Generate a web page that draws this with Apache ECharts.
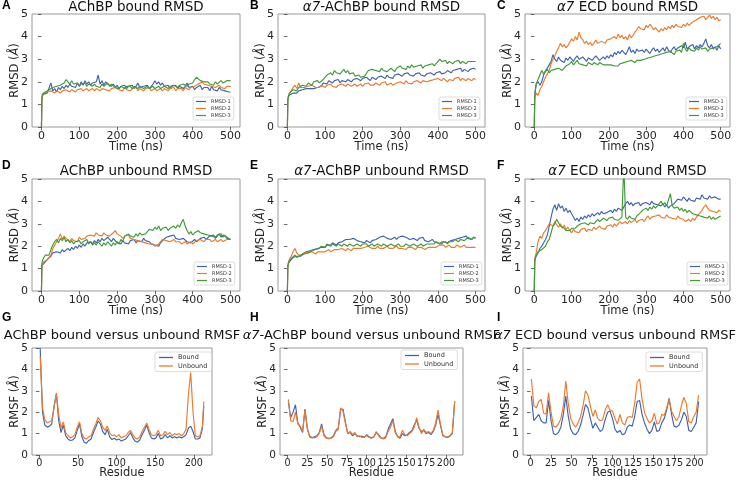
<!DOCTYPE html>
<html><head><meta charset="utf-8">
<script src="https://cdn.jsdelivr.net/npm/echarts@6/dist/echarts.min.js"></script>
<style>html,body{margin:0;padding:0;background:#fff}#c{width:738px;height:480px}</style>
</head><body><div id="c"></div>
<script>
// ---------- DATA ----------
const TIME = [0,1,2.5,5,10,15,20,25,30,35,
40,45,50,55,60,65,70,75,80,85,
90,95,100,105,110,115,120,125,130,135,
140,145,150,155,160,165,170,175,180,185,
190,195,200,205,210,215,220,225,230,235,
240,245,250,255,260,265,270,275,280,285,
290,295,300,305,310,315,320,325,330,335,
340,345,350,355,360,365,370,375,380,385,
390,395,400,405,410,415,420,425,430,435,
440,445,450,455,460,465,470,475,480,485,
490,495,500];

const A_RMSD1 = [0,1.15,1.35,1.45,1.4,1.5,1.45,1.95,1.6,1.7,
1.55,1.75,1.65,1.8,1.7,1.85,1.75,1.9,1.8,1.85,
1.75,1.95,1.8,2.0,1.85,2.05,1.9,2.0,1.85,1.95,
1.9,2.0,2.3,1.9,2.05,1.85,2.0,1.9,1.95,1.8,
1.9,1.75,1.85,1.7,1.8,1.75,1.85,1.7,1.8,1.75,
1.85,1.7,1.8,1.95,1.75,1.7,1.8,1.75,1.85,1.7,
1.8,1.9,2.05,1.9,2.0,1.85,1.95,1.8,1.75,1.85,
1.7,1.8,1.75,1.85,1.7,1.8,1.75,1.7,1.8,1.95,
1.75,1.7,1.8,1.65,1.75,1.7,1.85,1.65,1.75,1.7,
1.75,1.6,1.8,1.65,1.7,1.6,1.75,1.65,1.7,1.6,
1.65,1.55,1.55];
const A_RMSD2 = [0,1.2,1.4,1.5,1.45,1.55,1.5,1.6,1.55,1.5,
1.6,1.55,1.5,1.6,1.55,1.65,1.6,1.55,1.65,1.6,
1.55,1.65,1.6,1.7,1.6,1.65,1.7,1.6,1.65,1.7,
1.6,1.7,1.65,1.6,1.7,1.75,1.65,1.7,1.6,1.7,
1.65,1.75,1.7,1.65,1.7,1.6,1.75,1.65,1.7,1.6,
1.7,1.65,1.75,1.6,1.7,1.65,1.6,1.7,1.65,1.75,
1.6,1.65,1.7,1.6,1.65,1.7,1.6,1.7,1.65,1.6,
1.7,1.65,1.75,1.6,1.7,1.65,1.7,1.6,1.75,1.7,
1.65,1.75,1.7,1.8,1.75,1.9,1.85,2.0,1.9,1.95,
1.85,1.9,1.8,1.85,1.75,1.8,1.85,1.75,1.8,1.7,
1.8,1.75,1.8];
const A_RMSD3 = [0,1.25,1.45,1.5,1.55,1.6,1.65,1.6,1.75,1.7,
1.8,1.75,1.85,1.8,1.95,2.1,2.0,1.9,2.05,1.9,
1.85,1.95,1.8,1.9,1.85,1.95,1.8,1.9,1.85,1.8,
1.9,1.8,1.85,1.75,1.9,1.8,1.85,1.95,1.8,1.9,
1.85,1.75,1.8,1.7,1.8,1.75,1.7,1.8,1.75,1.8,
1.7,1.8,1.75,1.7,1.8,1.75,1.7,1.75,1.8,1.7,
1.75,1.8,1.7,1.75,1.8,1.7,1.75,1.8,1.75,1.7,
1.8,1.75,1.85,1.8,1.75,1.85,1.8,1.9,1.85,1.8,
1.9,1.85,1.95,2.1,2.2,2.15,2.05,2.1,2.0,1.95,
2.0,1.9,1.95,1.85,2.0,1.9,1.95,2.05,1.95,2.0,
2.05,2.0,2.05];

const B_RMSD1 = [0,1.15,1.3,1.4,1.45,1.5,1.55,1.5,1.6,1.55,
1.65,1.6,1.7,1.65,1.7,1.75,1.7,1.65,1.75,1.7,
1.8,1.95,2.0,1.9,2.05,2.0,1.95,2.05,2.0,2.1,
1.95,2.05,2.1,2.0,2.1,2.05,2.0,2.1,2.05,2.15,
2.1,2.05,2.15,2.1,2.2,2.15,2.05,2.2,2.15,2.1,
2.2,2.15,2.25,2.2,2.15,2.3,2.2,2.25,2.15,2.3,
2.25,2.35,2.3,2.25,2.35,2.3,2.4,2.3,2.35,2.25,
2.35,2.3,2.4,2.3,2.35,2.25,2.35,2.3,2.4,2.35,
2.3,2.4,2.35,2.45,2.35,2.3,2.4,2.5,2.45,2.4,
2.5,2.45,2.55,2.5,2.6,2.45,2.55,2.5,2.45,2.55,
2.5,2.6,2.55];
const B_RMSD2 = [0,1.2,1.35,1.45,1.6,1.75,1.85,1.7,1.95,1.75,
1.8,1.75,1.7,1.8,1.75,1.85,1.8,1.75,1.8,1.75,
1.85,1.8,1.75,1.85,1.8,1.9,1.8,1.85,1.75,1.85,
1.8,1.9,1.85,1.8,1.9,1.85,1.8,1.85,1.9,1.8,
1.85,1.9,1.8,1.9,1.85,1.95,1.85,1.9,1.85,1.95,
1.9,1.85,1.95,1.9,2.0,1.85,1.9,1.95,1.85,1.9,
1.95,1.9,2.0,1.95,1.9,2.05,1.95,2.0,1.9,2.0,
1.95,2.05,2.0,1.95,2.05,2.1,2.0,1.95,2.05,2.0,
2.1,2.05,2.15,2.1,2.05,2.15,2.1,2.0,2.1,2.15,
2.05,2.15,2.1,2.2,2.05,2.15,2.1,2.05,2.15,2.1,
2.05,2.15,2.1];
const B_RMSD3 = [0,1.2,1.35,1.5,1.55,1.65,1.7,1.6,1.75,1.8,
1.85,1.9,1.8,1.95,1.9,1.85,2.0,1.95,2.05,1.95,
2.0,2.1,2.2,2.3,2.25,2.4,2.3,2.5,2.4,2.45,
2.35,2.45,2.55,2.4,2.5,2.35,2.3,2.4,2.25,2.2,
2.3,2.2,2.15,2.25,2.2,2.5,2.45,2.55,2.6,2.5,
2.55,2.45,2.6,2.5,2.55,2.45,2.5,2.6,2.55,2.45,
2.6,2.55,2.7,2.6,2.65,2.55,2.7,2.6,2.75,2.65,
2.6,2.7,2.65,2.75,2.6,2.7,2.65,2.75,2.7,2.8,
2.7,2.8,2.75,3.0,2.9,2.85,2.95,2.8,2.9,2.85,
2.8,2.9,2.85,2.95,2.8,2.9,2.85,2.8,2.9,2.85,
2.9,2.85,2.9];

const C_RMSD1 = [0,1.3,1.6,1.9,2.0,1.85,2.0,2.3,2.5,2.6,
2.75,2.9,3.2,3.0,2.9,3.1,2.95,3.0,2.85,3.05,
2.95,3.1,3.0,2.9,3.05,3.15,3.0,2.95,3.1,3.0,
2.9,3.05,3.1,2.95,3.0,3.15,3.05,2.95,3.0,3.1,
3.0,3.15,3.05,3.2,3.1,3.3,3.2,3.35,3.25,3.4,
3.3,3.2,3.35,3.55,3.3,3.4,3.25,3.45,3.35,3.3,
3.4,3.3,3.45,3.35,3.25,3.4,3.5,3.35,3.45,3.3,
3.4,3.5,3.35,3.55,3.4,3.3,3.45,3.55,3.4,3.5,
3.45,3.6,3.5,3.75,3.45,3.55,3.5,3.65,3.45,3.6,
3.5,3.65,3.55,3.7,3.9,3.6,3.5,3.65,3.45,3.55,
3.4,3.6,3.45];
const C_RMSD2 = [0,1.2,1.4,1.5,1.4,1.65,1.8,2.0,2.2,2.35,
2.5,2.8,3.0,3.15,3.35,3.5,3.7,3.55,3.65,3.5,
3.6,3.75,3.9,3.8,4.0,3.85,4.2,3.95,3.85,3.7,
3.8,3.65,3.75,3.6,3.7,3.85,3.7,3.65,3.8,3.75,
3.7,3.85,3.8,3.9,3.85,4.0,3.9,4.1,3.95,4.05,
3.9,4.0,3.85,4.1,3.95,4.05,4.2,4.3,4.45,4.35,
4.4,4.3,4.5,4.4,4.55,4.45,4.3,4.4,4.3,4.2,
4.35,4.25,4.4,4.3,4.45,4.35,4.5,4.4,4.55,4.45,
4.5,4.4,4.55,4.45,4.6,4.5,4.55,4.65,4.6,4.75,
4.7,4.85,4.8,4.9,4.75,4.85,4.95,4.8,4.9,4.75,
4.85,4.7,4.75];
const C_RMSD3 = [0,1.25,1.6,1.9,2.1,2.3,2.5,2.35,2.45,2.55,
2.4,2.5,2.45,2.55,2.5,2.6,2.55,2.5,2.6,2.7,
2.65,2.8,2.9,2.75,2.85,2.95,2.8,2.85,2.75,2.8,
2.7,2.85,2.8,2.75,2.85,2.8,2.75,2.85,2.8,2.75,
2.8,2.75,2.7,2.75,2.8,2.7,2.75,2.7,2.8,2.75,
2.85,2.8,2.9,2.85,2.95,2.9,2.85,2.95,3.0,2.95,
2.9,3.0,2.95,3.05,3.0,3.1,3.05,3.15,3.1,3.2,
3.15,3.25,3.2,3.3,3.25,3.35,3.3,3.2,3.35,3.3,
3.4,3.3,3.7,3.45,3.35,3.5,3.4,3.45,3.35,3.5,
3.4,3.55,3.45,3.4,3.5,3.35,3.45,3.4,3.5,3.45,
3.55,3.6,3.7];

const D_RMSD1 = [0,1.05,1.15,1.2,1.3,1.4,1.45,1.55,1.7,1.65,
1.75,1.8,1.7,1.85,1.75,1.8,1.9,1.8,1.95,1.85,
2.0,1.9,2.05,1.95,2.1,2.0,2.15,2.1,2.2,2.1,
2.25,2.15,2.3,2.2,2.35,2.25,2.3,2.4,2.3,2.2,
2.35,2.25,2.15,2.2,2.1,2.25,2.15,2.2,2.1,2.25,
2.2,2.3,2.15,2.25,2.3,2.2,2.35,2.25,2.3,2.2,
2.1,2.15,2.05,2.1,2.0,2.15,2.25,2.3,2.4,2.35,
2.45,2.4,2.5,2.35,2.4,2.3,2.25,2.35,2.3,2.2,
2.25,2.15,2.2,2.3,2.2,2.25,2.35,2.3,2.4,2.3,
2.35,2.45,2.4,2.5,2.35,2.45,2.55,2.4,2.5,2.45,
2.4,2.35,2.3];
const D_RMSD2 = [0,1.1,1.2,1.3,1.25,1.4,1.35,1.6,1.9,2.05,
2.1,2.35,2.55,2.3,2.45,2.35,2.3,2.2,2.35,2.25,
2.3,2.2,2.4,2.3,2.25,2.35,2.45,2.4,2.5,2.55,
2.45,2.6,2.5,2.55,2.45,2.6,2.5,2.55,2.45,2.5,
2.6,2.7,2.55,2.5,2.45,2.35,2.45,2.4,2.5,2.35,
2.4,2.3,2.35,2.25,2.3,2.2,2.25,2.15,2.2,2.1,
2.05,2.1,2.0,2.05,2.1,2.2,2.3,2.35,2.25,2.3,
2.2,2.25,2.3,2.2,2.15,2.2,2.1,2.15,2.2,2.1,
2.15,2.2,2.1,2.15,2.25,2.2,2.3,2.25,2.2,2.3,
2.25,2.3,2.2,2.25,2.3,2.2,2.25,2.3,2.2,2.25,
2.3,2.25,2.3];
const D_RMSD3 = [0,1.2,1.35,1.45,1.6,1.55,1.6,1.85,2.05,2.2,
2.3,2.15,2.35,2.25,2.4,2.2,2.3,2.15,2.25,2.1,
2.2,2.15,2.25,2.1,2.2,2.15,2.3,2.1,2.2,2.05,
2.15,2.05,2.2,2.1,2.0,2.15,2.05,2.2,2.1,2.0,
2.15,2.05,2.2,2.1,2.3,2.2,2.45,2.4,2.55,2.45,
2.5,2.4,2.55,2.45,2.6,2.5,2.45,2.55,2.65,2.75,
2.8,2.7,2.85,2.75,2.9,2.7,2.8,2.75,2.85,2.7,
2.8,2.75,2.9,2.8,2.95,2.85,3.05,3.2,2.9,2.7,
2.55,2.65,2.5,2.6,2.55,2.7,2.6,2.65,2.55,2.6,
2.5,2.55,2.45,2.5,2.4,2.5,2.45,2.55,2.4,2.5,
2.35,2.4,2.3];

const E_RMSD1 = [0,1.05,1.2,1.3,1.4,1.5,1.45,1.55,1.6,1.55,
1.65,1.6,1.75,1.7,1.8,1.75,1.85,1.8,1.9,1.85,
1.95,2.0,1.95,2.05,2.1,2.05,2.15,2.1,2.05,2.15,
2.1,2.2,2.15,2.3,2.35,2.3,2.25,2.35,2.3,2.25,
2.3,2.2,2.25,2.15,2.25,2.2,2.15,2.25,2.2,2.3,
2.35,2.4,2.35,2.45,2.4,2.35,2.4,2.3,2.35,2.4,
2.3,2.4,2.35,2.45,2.5,2.4,2.35,2.3,2.25,2.35,
2.3,2.25,2.35,2.3,2.4,2.25,2.3,2.2,2.25,2.3,
2.2,2.25,2.15,2.2,2.1,2.2,2.25,2.15,2.2,2.25,
2.2,2.3,2.25,2.35,2.3,2.4,2.35,2.45,2.35,2.4,
2.3,2.4,2.35];
const E_RMSD2 = [0,1.1,1.25,1.4,1.55,1.75,1.9,1.7,1.6,1.65,
1.6,1.7,1.65,1.7,1.65,1.75,1.7,1.65,1.75,1.7,
1.75,1.8,1.75,1.8,1.85,1.75,1.8,1.85,1.8,1.85,
1.8,1.9,1.85,1.8,1.9,1.85,1.8,1.9,1.85,1.9,
1.95,1.9,1.85,1.95,1.9,2.0,1.95,1.9,1.95,1.9,
2.0,1.9,1.95,1.9,1.95,2.0,1.9,1.95,1.9,1.95,
2.0,1.9,1.95,1.9,1.95,1.85,1.95,1.9,1.95,1.9,
1.85,1.95,1.9,1.95,1.9,1.85,1.9,1.95,1.9,1.95,
2.0,1.95,2.0,2.05,2.0,2.05,1.95,2.0,2.05,1.95,
2.0,1.95,2.05,2.0,1.95,2.0,2.05,1.95,2.0,1.95,
2.0,1.95,1.95];
const E_RMSD3 = [0,1.1,1.25,1.35,1.45,1.5,1.6,1.5,1.55,1.6,
1.55,1.65,1.6,1.7,1.75,1.8,1.75,1.85,1.8,1.9,
2.0,2.05,1.95,2.1,2.05,2.0,2.1,2.05,2.0,2.1,
2.05,2.0,2.1,2.05,2.0,2.1,2.05,2.0,2.05,2.1,
2.05,2.0,2.1,2.05,2.1,2.0,2.05,2.1,2.0,2.05,
2.1,2.05,2.0,2.1,2.05,2.0,2.05,2.1,2.05,2.0,
2.05,2.1,2.0,2.05,2.0,2.1,2.05,2.0,2.05,2.1,
2.05,2.0,2.05,2.1,2.0,2.05,2.1,2.05,2.1,2.15,
2.1,2.2,2.15,2.1,2.2,2.15,2.2,2.1,2.2,2.25,
2.2,2.3,2.25,2.2,2.3,2.35,2.25,2.3,2.4,2.35,
2.3,2.4,2.35];

const F_RMSD1 = [0,1.3,1.45,1.55,1.7,1.9,2.0,2.15,2.3,2.5,
2.9,3.3,3.65,3.85,3.6,3.9,3.7,3.8,3.55,3.7,
3.5,3.6,3.45,3.3,3.15,3.25,3.1,3.3,3.2,3.35,
3.25,3.4,3.3,3.45,3.35,3.4,3.5,3.4,3.55,3.45,
3.4,3.5,3.45,3.6,3.5,3.65,3.55,3.7,3.65,3.6,
3.65,3.9,4.0,3.85,3.95,3.8,3.9,3.85,3.95,3.8,
3.9,3.85,3.95,3.9,3.85,4.0,3.9,3.95,3.85,3.9,
3.8,3.9,3.75,3.85,3.7,3.8,3.75,3.9,3.85,4.1,
4.15,4.05,4.2,4.1,4.0,4.15,4.05,4.1,4.0,4.15,
4.2,4.1,4.3,4.15,4.2,4.1,4.25,4.15,4.1,4.2,
4.15,4.1,4.1];
const F_RMSD2 = [0,1.35,1.55,1.7,2.2,2.45,2.35,2.6,2.7,2.85,
3.0,3.05,2.9,3.1,2.95,2.85,3.0,2.8,2.95,2.75,
2.85,2.7,2.6,2.75,2.65,2.7,2.6,2.75,2.7,2.8,
2.65,2.75,2.8,2.7,2.85,2.75,2.8,2.9,2.8,2.85,
2.75,2.9,2.85,2.95,2.85,3.0,2.9,2.95,3.1,3.0,
3.05,3.1,3.0,3.15,3.05,3.1,3.2,3.05,3.15,3.1,
3.2,3.1,3.25,3.35,3.2,3.3,3.25,3.35,3.3,3.4,
3.3,3.35,3.25,3.4,3.3,3.35,3.25,3.3,3.2,3.35,
3.25,3.3,3.2,3.1,3.15,3.2,3.1,3.25,3.15,3.3,
3.4,3.5,3.6,3.75,3.85,3.7,3.6,3.65,3.55,3.6,
3.5,3.6,3.55];
const F_RMSD3 = [0,1.3,1.5,1.6,1.75,1.8,1.85,1.9,2.0,2.2,
2.3,2.6,2.9,3.0,3.2,3.05,2.9,2.95,2.8,2.7,
2.75,2.7,2.8,2.75,2.8,2.9,2.85,3.0,2.95,3.05,
3.0,2.95,3.05,3.1,3.0,3.1,3.2,3.1,3.15,3.25,
3.2,3.15,3.25,3.2,3.3,3.2,3.25,3.15,3.2,3.3,
5.6,3.3,3.2,3.35,3.25,3.3,3.2,3.35,3.3,3.5,
3.6,3.55,3.7,3.6,3.75,3.65,3.8,3.7,3.75,3.9,
4.0,3.85,3.95,3.8,3.75,4.35,3.8,3.7,3.65,3.75,
3.6,3.7,3.55,3.65,3.5,3.6,3.55,3.45,3.5,3.4,
3.45,3.35,3.4,3.3,3.35,3.25,3.35,3.2,3.3,3.2,
3.25,3.3,3.35];

const RES_G = [1,4,7,10,13,16,19,22,25,28,31,34,37,40,43,46,49,52,55,58,
61,64,67,70,73,76,79,82,85,88,91,94,97,100,103,106,109,112,115,118,
121,124,127,130,133,136,139,142,145,148,151,154,157,160,163,166,169,172,175,178,
181,184,187,190,193,196,199,202,205,208,211,213];
const G_BOUND = [5.0,2.0,1.4,1.3,1.35,1.45,2.3,2.85,1.6,1.05,
1.4,0.9,0.75,0.68,0.7,0.8,1.15,1.45,0.85,0.6,
0.55,0.68,0.75,1.05,1.3,1.6,1.45,1.1,0.95,1.2,
0.85,0.72,0.78,0.7,0.75,0.65,0.7,0.75,0.9,1.05,
0.8,0.65,0.6,0.7,0.95,1.15,1.4,1.05,0.8,0.75,
0.8,1.0,0.75,0.8,0.95,0.8,0.9,0.8,0.85,0.8,
0.85,0.8,0.85,0.95,1.25,1.35,1.1,0.75,0.75,0.8,
1.2,2.3];
const G_UNBOUND = [4.6,2.2,1.65,1.5,1.55,1.6,2.2,2.9,1.9,1.25,
1.55,1.05,0.9,0.8,0.85,0.95,1.3,1.55,1.0,0.8,
0.75,0.85,0.9,1.2,1.45,1.75,1.6,1.3,1.15,1.35,
1.05,0.9,0.95,0.85,0.95,0.8,0.85,0.9,1.05,1.15,
0.95,0.8,0.75,0.85,1.1,1.3,1.5,1.2,0.95,0.9,
0.95,1.15,0.9,0.95,1.1,0.95,1.05,0.9,1.0,0.95,
1.0,0.9,1.0,1.2,2.8,3.85,2.0,0.9,0.85,0.9,
1.3,2.5];

const RES_H = [1,4,7,10,13,16,19,22,25,28,31,34,37,40,43,46,49,52,55,58,
61,64,67,70,73,76,79,82,85,88,91,94,97,100,103,106,109,112,115,118,
121,124,127,130,133,136,139,142,145,148,151,154,157,160,163,166,169,172,175,178,
181,184,187,190,193,196,199,202,205,208,211];
const H_BOUND = [2.5,1.75,2.0,2.35,1.5,1.3,1.05,2.15,1.25,0.85,
0.8,0.85,0.9,1.05,1.45,0.95,0.8,0.78,0.8,0.9,
1.15,1.25,2.1,2.15,1.55,1.0,1.05,0.9,1.0,0.9,
0.85,0.88,0.82,0.95,0.85,0.8,0.85,1.05,0.95,0.8,
0.78,0.85,1.2,1.45,1.7,1.1,0.85,0.78,1.0,0.9,
0.95,1.05,1.15,1.4,1.65,1.25,1.1,1.15,1.0,1.05,
0.95,1.1,1.4,1.9,1.4,0.9,0.85,0.82,0.88,1.0,
2.5];
const H_UNBOUND = [2.6,1.6,1.55,2.0,1.45,1.35,1.1,2.1,1.2,0.9,
0.82,0.8,0.85,1.0,1.35,0.9,0.78,0.75,0.78,0.85,
1.1,1.2,2.2,2.05,1.5,1.0,1.1,0.95,1.05,0.85,
0.9,0.82,0.85,0.9,0.82,0.78,0.85,1.1,0.9,0.78,
0.75,0.8,1.1,1.3,1.6,1.05,0.85,0.85,1.15,0.95,
0.9,1.0,1.1,1.3,1.75,1.3,1.0,1.2,1.05,1.1,
1.0,1.15,1.5,2.1,1.45,0.95,0.85,0.85,0.9,1.05,
2.5];

const RES_I = [1,4,7,10,13,16,19,22,25,28,31,34,37,40,43,46,49,52,55,58,
61,64,67,70,73,76,79,82,85,88,91,94,97,100,103,106,109,112,115,118,
121,124,127,130,133,136,139,142,145,148,151,154,157,160,163,166,169,172,175,178,
181,184,187,190,193,196,199,202,205];
const I_BOUND = [2.75,1.6,1.75,1.9,1.6,1.5,1.5,2.55,1.6,1.0,
0.95,1.05,1.3,1.9,2.75,1.8,1.2,1.0,0.95,1.1,
1.4,1.85,2.35,2.2,1.7,1.25,1.5,1.3,1.1,1.2,
1.65,2.0,2.05,1.7,1.2,1.05,1.15,0.95,1.0,1.3,
1.4,1.35,1.8,2.5,2.55,1.9,1.5,1.2,1.0,1.15,
1.55,1.1,1.15,1.5,1.7,2.1,2.65,1.9,1.35,1.3,
1.4,1.65,2.0,1.8,1.15,1.1,1.3,1.5,2.5];
const I_UNBOUND = [3.55,2.3,2.2,2.5,2.6,1.95,1.9,2.9,2.0,1.35,
1.3,1.45,1.7,2.3,3.45,2.4,1.7,1.45,1.3,1.5,
1.8,2.3,3.0,2.8,2.3,1.8,2.1,1.7,1.6,1.65,
2.1,2.35,2.1,2.05,1.7,1.45,1.9,1.5,1.4,1.75,
1.8,1.75,2.4,3.4,3.55,2.6,2.0,1.7,1.5,1.6,
1.95,1.45,1.5,1.9,1.85,2.2,2.6,2.05,1.8,1.6,
1.8,2.3,2.7,2.4,1.55,1.5,1.8,2.0,2.8];

const TIME_TICKS = [0,100,200,300,400,500];
const RES_TICKS_G = [0,50,100,150,200];
const RES_TICKS_HI = [0,25,50,75,100,125,150,175,200];
const RMSD_NAMES = ['RMSD-1','RMSD-2','RMSD-3'];
const RMSF_NAMES = ['Bound','Unbound'];
const LETTERS = ['A','B','C','D','E','F','G','H','I'];
const TITLES = ['AChBP bound RMSD','{it|α7}-AChBP bound RMSD','{it|α7} ECD bound RMSD',
  'AChBP unbound RMSD','{it|α7}-AChBP unbound RMSD','{it|α7} ECD unbound RMSD',
  'AChBP bound versus unbound RMSF','{it|α7}-AChBP bound versus unbound RMSF','{it|α7} ECD bound versus unbound RMSF'];

// ---------- LAYOUT ----------
const COLORS = ['#4063b0','#ec7a2c','#3f9b35'];
const FONT = 'DejaVu Sans';
const GRIDS = [
  [32,14,208,113],[278,14,207,113],[525,14,205,113],
  [32,179,208,112],[278,179,207,112],[525,179,205,112],
  [32,348,180,107],[280,348,183,107],[523,348,184,107]];
const TITLE_Y = [7.5,7.5,7.5,171,171,171,336,336,336];
const TITLE_SIZE = [13.5,13.5,13.5,13.5,13.5,13.5,13,13,13];
const LETTER_POS = [[2,6],[250,6],[497,6],[2,166],[250,166],[497,166],[2,318],[250,318],[497,318]];
const LEGEND_POS = [[193,97],[439,97],[686,97],[194,262],[441,262],[687,262],[155,352],[401,350],[646,352]];

const rmsdSets = [
  [A_RMSD1,A_RMSD2,A_RMSD3],[B_RMSD1,B_RMSD2,B_RMSD3],[C_RMSD1,C_RMSD2,C_RMSD3],
  [D_RMSD1,D_RMSD2,D_RMSD3],[E_RMSD1,E_RMSD2,E_RMSD3],[F_RMSD1,F_RMSD2,F_RMSD3]];
const rmsfSets = [
  [RES_G,G_BOUND,G_UNBOUND],[RES_H,H_BOUND,H_UNBOUND],[RES_I,I_BOUND,I_UNBOUND]];

const grid = [], xAxis = [], yAxis = [], series = [], legend = [], graphic = [];

function pairs(xs, ys){ return xs.map((x,k)=>[x, ys[k]]); }

for (let i = 0; i < 9; i++) {
  const g = GRIDS[i];
  const isRmsf = i >= 6;
  grid.push({left:g[0], top:g[1], width:g[2], height:g[3], show:true,
    borderColor:'#8f8f8f', borderWidth:0.9, backgroundColor:'transparent', containLabel:false});
  let xmin, xmax, ticks;
  if (!isRmsf) { xmin=-25; xmax=525; ticks=TIME_TICKS; }
  else if (i===6) { xmin=-9.6; xmax=223.6; ticks=RES_TICKS_G; }
  else if (i===7) { xmin=-9.5; xmax=221.5; ticks=RES_TICKS_HI; }
  else { xmin=-9.2; xmax=215.2; ticks=RES_TICKS_HI; }
  xAxis.push({gridIndex:i, type:'value', min:xmin, max:xmax,
    axisLine:{show:false}, splitLine:{show:false},
    axisTick:{show:true, customValues:ticks, length:3.5, lineStyle:{color:'#444', width:0.8}},
    axisLabel:{customValues:ticks, fontSize:isRmsf?9.6:11, color:'#262626', fontFamily:FONT, margin:isRmsf?3:4},
    name:isRmsf?'Residue':'Time (ns)', nameLocation:'middle', nameGap:isRmsf?12:14, nameMoveOverlap:false,
    nameTextStyle:{fontSize:11.5, color:'#262626', fontFamily:FONT}});
  yAxis.push({gridIndex:i, type:'value', min:0, max:5, interval:1,
    axisLine:{show:false}, splitLine:{show:false},
    axisTick:{show:true, length:3.5, lineStyle:{color:'#444', width:0.8}},
    axisLabel:{fontSize:isRmsf?10.5:11, color:'#262626', fontFamily:FONT, margin:4},
    name:(isRmsf?'RMSF':'RMSD')+' ({it|Å})', nameLocation:'middle', nameGap:11, nameMoveOverlap:false,
    nameTextStyle:{fontSize:11.5, color:'#262626', fontFamily:FONT,
      rich:{it:{fontStyle:'italic', fontSize:11.5, color:'#262626', fontFamily:FONT}}}});

  if (!isRmsf) {
    rmsdSets[i].forEach((ys,k)=>{
      series.push({type:'line', name:RMSD_NAMES[k], xAxisIndex:i, yAxisIndex:i,
        data:pairs(TIME, ys), symbol:'none', showSymbol:false, clip:true,
        lineStyle:{width:1.15, color:COLORS[k]}, itemStyle:{color:COLORS[k]},
        emphasis:{disabled:true}, animation:false});
    });
  } else {
    const s = rmsfSets[i-6];
    [s[1], s[2]].forEach((ys,k)=>{
      series.push({type:'line', name:RMSF_NAMES[k], xAxisIndex:i, yAxisIndex:i,
        data:pairs(s[0], ys), symbol:'none', showSymbol:false, clip:true,
        lineStyle:{width:1.15, color:COLORS[k]}, itemStyle:{color:COLORS[k]},
        emphasis:{disabled:true}, animation:false});
    });
  }

  const lp = LEGEND_POS[i];
  legend.push({data:isRmsf?RMSF_NAMES:RMSD_NAMES, left:lp[0], top:lp[1], orient:'vertical',
    icon:'rect', itemWidth:isRmsf?14:10, itemHeight:isRmsf?1.3:1.2, itemGap:isRmsf?1.5:2,
    padding:isRmsf?[2,4,2,4]:[2,3,2,3], backgroundColor:'#fff', borderColor:'#d4d4d4',
    borderWidth:0.8, borderRadius:2, selectedMode:false,
    textStyle:{fontSize:isRmsf?6.5:5, color:'#333', fontFamily:FONT}});

  graphic.push({type:'text', x:g[0]+g[2]/2, y:TITLE_Y[i], silent:true,
    style:{text:TITLES[i], fill:'#111', fontSize:TITLE_SIZE[i], fontFamily:FONT, align:'center', verticalAlign:'middle',
      rich:{it:{fontStyle:'italic', fontSize:TITLE_SIZE[i], fontFamily:FONT, fill:'#111'}}}});
  graphic.push({type:'text', x:LETTER_POS[i][0], y:LETTER_POS[i][1], silent:true,
    style:{text:LETTERS[i], fill:'#000', fontSize:12, fontWeight:'bold', fontFamily:'Liberation Sans',
      align:'left', verticalAlign:'middle'}});
}

const chart = echarts.init(document.getElementById('c'), null, {renderer:'canvas'});
chart.setOption({animation:false, backgroundColor:'#fff', grid, xAxis, yAxis, series, legend, graphic});
</script></body></html>
